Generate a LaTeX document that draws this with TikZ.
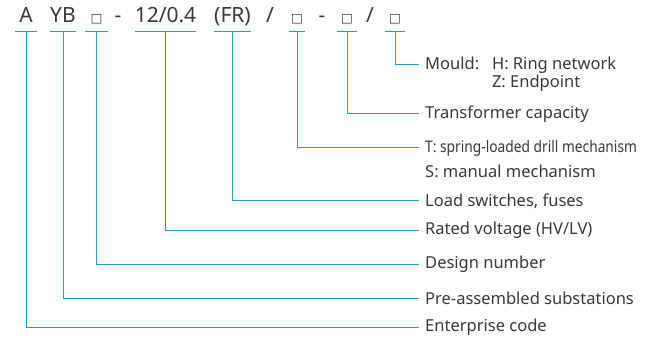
\documentclass[tikz,border=0pt]{standalone}
\usepackage{fontspec}
\setmainfont{Noto Sans}
\newfontfamily\symfont{DejaVu Sans}
\newfontfamily\narrowfont[FakeStretch=0.86]{Noto Sans}
\usetikzlibrary{positioning}
\definecolor{leadblue}{HTML}{1E9AD8}
\definecolor{inkgray}{HTML}{3A3A3A}
\newcommand{\blank}{{\symfont\fontsize{12.5}{14}\selectfont □}}

\begin{document}
\begin{tikzpicture}[
  x=1pt, y=-1pt,
  code/.style={inner xsep=0pt, inner ysep=5pt, text height=16pt, text depth=4pt, anchor=south, font=\fontsize{21}{24}\selectfont, text=inkgray},
  lbl/.style={anchor=west, inner xsep=6pt, inner ysep=0pt, font=\fontsize{16.5}{19}\selectfont, text=inkgray},
  lead/.style={draw=leadblue, line width=1pt}
]
\useasboundingbox (0,0) rectangle (653,339);

% model code
\node[code, minimum width=22pt] (cEnt) at (26,32) {A};
\node[code, minimum width=23pt] (cPre) at (63,32) {YB};
\node[code, minimum width=23pt] (cDes) at (96.5,32) {\blank};
\node[code] (sepA) at (118,32) {-};
\node[code, minimum width=61pt] (cVolt) at (165.5,32) {12/0.4};
\node[code, minimum width=35pt] (cSw) at (232.5,32) {(FR)};
\node[code] (sepB) at (270,32) {/};
\node[code, minimum width=16pt] (cMech) at (297,32) {\blank};
\node[code] (sepC) at (322,32) {-};
\node[code, minimum width=20pt] (cCap) at (347,32) {\blank};
\node[code] (sepD) at (370,32) {/};
\node[code, minimum width=20pt] (cMould) at (395,32) {\blank};

% labels
\node[lbl] (lMould) at (419,65) {Mould:\ \ \ H: Ring network};
\node[lbl] (lMould2) at (419,83) {\phantom{Mould:\ \ \ }Z: Endpoint};
\node[lbl] (lCap) at (419,114) {Transformer capacity};
\node[lbl, font=\narrowfont\fontsize{16}{19}\selectfont] (lMech) at (419,148) {T: spring-loaded drill mechanism};
\node[lbl] (lMech2) at (419,171) {S: manual mechanism};
\node[lbl] (lSw) at (419,201) {Load switches, fuses};
\node[lbl] (lVolt) at (419,230) {Rated voltage (HV/LV)};
\node[lbl] (lDes) at (419,264) {Design number};
\node[lbl] (lPre) at (419,298) {Pre-assembled substations};
\node[lbl] (lEnt) at (419,327) {Enterprise code};

% underline ticks
\draw[lead] (cEnt.south west) -- (cEnt.south east);
\draw[lead] (cPre.south west) -- (cPre.south east);
\draw[lead] (cDes.south west) -- (cDes.south east);
\draw[lead] (cVolt.south west) -- (cVolt.south east);
\draw[lead] (cSw.south west) -- (cSw.south east);
\draw[lead] (cMech.south west) -- (cMech.south east);
\draw[lead] (cCap.south west) -- (cCap.south east);
\draw[lead] (cMould.south west) -- (cMould.south east);

% leaders
\draw[lead] (cMould.south) |- (lMould.west);
\draw[lead] (cCap.south) |- (lCap.west);
\draw[lead] (cMech.south) |- (lMech.west);
\draw[lead] (cSw.south) |- (lSw.west);
\draw[lead] (cVolt.south) |- (lVolt.west);
\draw[lead] (cDes.south) |- (lDes.west);
\draw[lead] (cPre.south) |- (lPre.west);
\draw[lead] (cEnt.south) |- (lEnt.west);

\end{tikzpicture}
\end{document}
